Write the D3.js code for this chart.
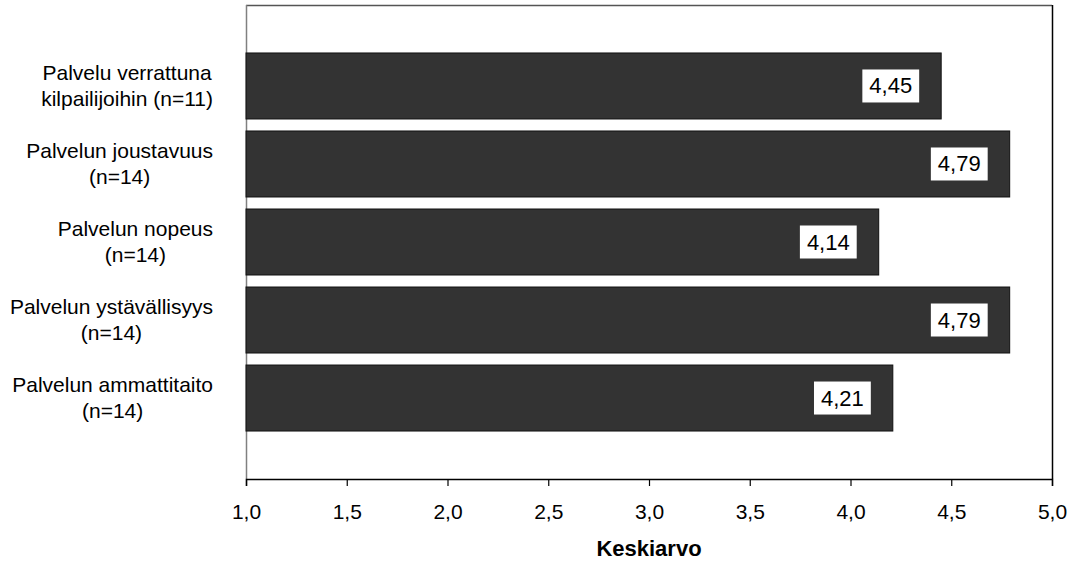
<!DOCTYPE html>
<html>
<head>
<meta charset="utf-8">
<script src="https://cdn.jsdelivr.net/npm/d3@7"></script>
<style>
  html, body { margin: 0; padding: 0; background: #fff; }
  svg { display: block; font-family: "Liberation Sans", Arial, sans-serif; }
</style>
</head>
<body>
<svg id="chart" width="1079" height="563"></svg>
<script>
// Service quality ratings (mean, scale 1–5)
const categories = [
  ["Palvelu verrattuna", "kilpailijoihin (n=11)"],
  ["Palvelun joustavuus", "(n=14)"],
  ["Palvelun nopeus", "(n=14)"],
  ["Palvelun ystävällisyys", "(n=14)"],
  ["Palvelun ammattitaito", "(n=14)"]
];
const values = [4.45, 4.79, 4.14, 4.79, 4.21];
const valueLabels = ["4,45", "4,79", "4,14", "4,79", "4,21"];
const xTicks = [1.0, 1.5, 2.0, 2.5, 3.0, 3.5, 4.0, 4.5, 5.0];
const xTitle = "Keskiarvo";

const svg = d3.select("#chart");
const plot = { left: 246, right: 1052, top: 5, bottom: 479 };
const fontSize = 21;

const x = d3.scaleLinear().domain([1, 5]).range([plot.left, plot.right]);
const y = d3.scaleBand()
  .domain(d3.range(categories.length))
  .range([plot.top, plot.bottom])
  .paddingInner(0.154)
  .paddingOuter(0.615);

// plot frame
svg.append("line").attr("x1", plot.left).attr("x2", plot.right)
  .attr("y1", plot.top + 0.5).attr("y2", plot.top + 0.5)
  .attr("stroke", "#555").attr("stroke-width", 1.5);
svg.append("line").attr("x1", plot.right + 0.5).attr("x2", plot.right + 0.5)
  .attr("y1", plot.top).attr("y2", plot.bottom)
  .attr("stroke", "#000").attr("stroke-width", 1.5);
svg.append("line").attr("x1", plot.left + 0.5).attr("x2", plot.left + 0.5)
  .attr("y1", plot.top).attr("y2", plot.bottom)
  .attr("stroke", "#808080").attr("stroke-width", 1.5);

// bars
svg.append("g").selectAll("rect")
  .data(values)
  .join("rect")
  .attr("x", x(1))
  .attr("y", (d, i) => y(i))
  .attr("width", d => x(d) - x(1))
  .attr("height", y.bandwidth())
  .attr("fill", "#333333")
  .attr("stroke", "#111")
  .attr("stroke-width", 1);

// x axis
const xAxis = d3.axisBottom(x)
  .tickValues(xTicks)
  .tickSize(7)
  .tickPadding(18)
  .tickFormat(d => d3.format(".1f")(d).replace(".", ","));
const gx = svg.append("g")
  .attr("transform", `translate(0,${plot.bottom})`)
  .call(xAxis);
gx.select(".domain").attr("stroke", "#000").attr("stroke-width", 1.5);
gx.selectAll(".tick line").attr("stroke", "#000").attr("stroke-width", 1.2);
gx.selectAll(".tick text")
  .attr("font-size", fontSize)
  .attr("fill", "#000")
  .attr("font-family", "'Liberation Sans', Arial, sans-serif");

svg.append("text")
  .attr("x", (plot.left + plot.right) / 2)
  .attr("y", 556)
  .attr("text-anchor", "middle")
  .attr("font-size", 22)
  .attr("font-weight", "bold")
  .text(xTitle);

// category labels: each line centred within a block right-aligned to the axis
const labelRight = 213;
const lineGap = 26.5;
categories.forEach((lines, i) => {
  const g = svg.append("g");
  const cy = y(i) + y.bandwidth() / 2;
  const texts = lines.map((ln, k) => g.append("text")
    .attr("font-size", fontSize)
    .attr("fill", "#000")
    .attr("text-anchor", "middle")
    .attr("y", cy + 7 + (k - (lines.length - 1) / 2) * lineGap)
    .text(ln));
  const maxW = d3.max(texts, t => t.node().getComputedTextLength());
  texts.forEach(t => t.attr("x", labelRight - maxW / 2));
});

// value labels in white boxes near each bar's end
const boxH = 33, padX = 7, inset = 22;
values.forEach((v, i) => {
  const g = svg.append("g");
  const cy = y(i) + y.bandwidth() / 2;
  const t = g.append("text")
    .attr("font-size", 22)
    .attr("fill", "#000")
    .attr("text-anchor", "middle")
    .text(valueLabels[i]);
  const w = t.node().getComputedTextLength() + padX * 2;
  const right = x(v) - inset;
  g.insert("rect", "text")
    .attr("x", right - w)
    .attr("y", cy - boxH / 2)
    .attr("width", w)
    .attr("height", boxH)
    .attr("fill", "#fff");
  t.attr("x", right - w / 2).attr("y", cy + 7.5);
});
</script>
</body>
</html>
